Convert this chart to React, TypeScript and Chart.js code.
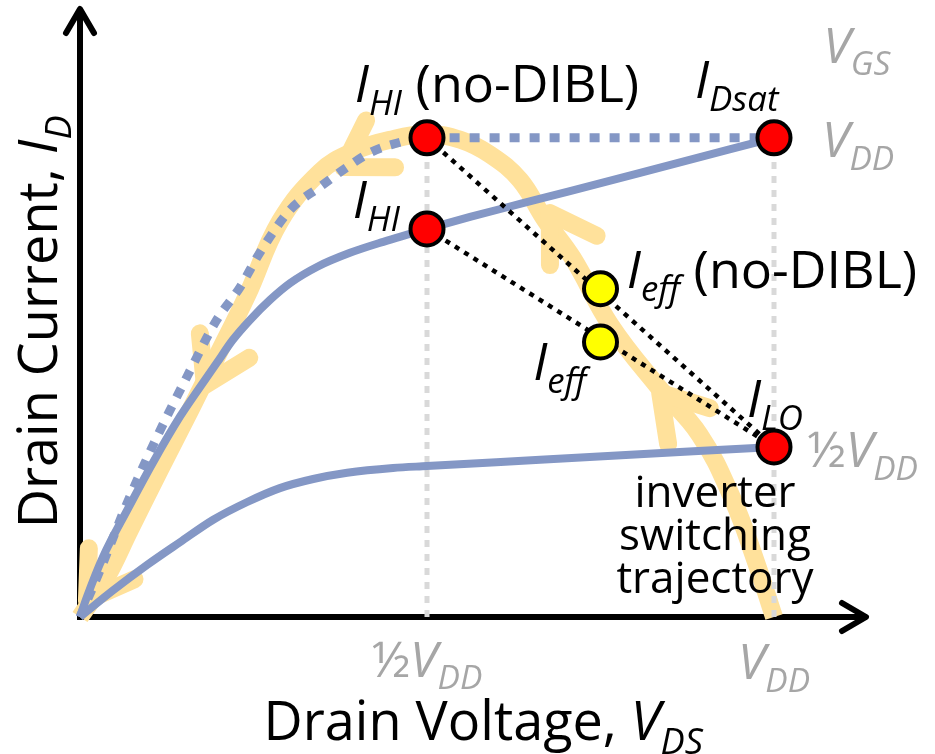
import { useEffect, useRef } from 'react';
import { Chart, registerables } from 'chart.js';

Chart.register(...registerables);

// ---------- data (x in units of VDD, y in units of IDsat) ----------
// no-DIBL characteristic, VGS = VDD (dashed)
const noDiblX = [0, 0.029, 0.068, 0.111, 0.154, 0.197, 0.231, 0.259, 0.303, 0.346, 0.385, 0.418, 0.447, 0.5, 1.0];
const noDiblY = [0, 0.098, 0.238, 0.376, 0.501, 0.62, 0.689, 0.76, 0.85, 0.898, 0.939, 0.969, 0.985, 1.0, 1.0];
// with DIBL, VGS = VDD (solid)
const vddCurveX = [0, 0.01, 0.033, 0.068, 0.105, 0.144, 0.173, 0.197, 0.22, 0.245, 0.274, 0.303, 0.342, 0.389, 0.437, 0.5, 0.562, 0.634, 0.706, 0.807, 1.0];
const vddCurveY = [0, 0.042, 0.125, 0.223, 0.322, 0.418, 0.48, 0.53, 0.578, 0.62, 0.662, 0.697, 0.731, 0.76, 0.783, 0.81, 0.835, 0.862, 0.889, 0.927, 1.0];
// with DIBL, VGS = 1/2 VDD (solid)
const halfCurveX = [0, 0.048, 0.097, 0.144, 0.192, 0.241, 0.288, 0.336, 0.385, 0.451, 0.5, 0.663, 1.0];
const halfCurveY = [0, 0.056, 0.109, 0.156, 0.203, 0.24, 0.269, 0.288, 0.301, 0.311, 0.315, 0.328, 0.355];
// inverter switching trajectory (in travel order)
const trajX = [1.0, 0.973, 0.941, 0.893, 0.831, 0.764, 0.71, 0.67, 0.634, 0.591, 0.548, 0.5, 0.447, 0.393, 0.346, 0.288, 0.241, 0.195, 0.159, 0.115, 0.072, 0.036, 0];
const trajY = [0, 0.119, 0.244, 0.38, 0.484, 0.61, 0.749, 0.829, 0.912, 0.965, 0.996, 1.008, 0.996, 0.971, 0.929, 0.825, 0.672, 0.537, 0.432, 0.307, 0.182, 0.077, 0];
// arrowheads along the trajectory
const arrowTipX = [0.836, 0.677, 0.379, 0.18, 0.01];
const arrowTipY = [0.468, 0.843, 0.939, 0.484, 0.035];
// red operating points: IHI(no-DIBL), IDsat, IHI, ILO
const redX = [0.5, 1.0, 0.5, 1.0];
const redY = [1.0, 1.0, 0.81, 0.355];
// yellow Ieff points: Ieff(no-DIBL), Ieff
const yellowX = [0.75, 0.75];
const yellowY = [0.685, 0.574];
// x tick values / guide lines
const xTickValues = [0.5, 1.0];
const guideTop = [1.0, 1.0];

const FONT = '"Open Sans", "DejaVu Sans", sans-serif';
const BLUE = '#8497c5';
const ORANGE = '#ffe19b';
const GRID = '#d9d9d9';
const GRAY = '#a6a6a6';
const SX = 1.0;

type Run = { t: string; it?: boolean; sub?: boolean };
type Label = { x: number; y: number; runs: Run[]; size: number; color: string; align: 'left' | 'center'; rot?: boolean };

const labels: Label[] = [
  { x: 0.396, y: 1.075, size: 52, color: '#000', align: 'left', runs: [{ t: 'I', it: true }, { t: 'HI', it: true, sub: true }, { t: ' (no-DIBL)' }] },
  { x: 0.886, y: 1.084, size: 52, color: '#000', align: 'left', runs: [{ t: 'I', it: true }, { t: 'Dsat', it: true, sub: true }] },
  { x: 1.071, y: 1.157, size: 50, color: GRAY, align: 'left', runs: [{ t: 'V', it: true }, { t: 'GS', it: true, sub: true }] },
  { x: 1.069, y: 0.96, size: 50, color: GRAY, align: 'left', runs: [{ t: 'V', it: true }, { t: 'DD', it: true, sub: true }] },
  { x: 0.393, y: 0.833, size: 52, color: '#000', align: 'left', runs: [{ t: 'I', it: true }, { t: 'HI', it: true, sub: true }] },
  { x: 0.788, y: 0.687, size: 52, color: '#000', align: 'left', runs: [{ t: 'I', it: true }, { t: 'eff', it: true, sub: true }, { t: ' (no-DIBL)' }] },
  { x: 0.653, y: 0.495, size: 52, color: '#000', align: 'left', runs: [{ t: 'I', it: true }, { t: 'eff', it: true, sub: true }] },
  { x: 0.961, y: 0.418, size: 52, color: '#000', align: 'left', runs: [{ t: 'I', it: true }, { t: 'LO', it: true, sub: true }] },
  { x: 1.048, y: 0.313, size: 50, color: GRAY, align: 'left', runs: [{ t: '½' }, { t: 'V', it: true }, { t: 'DD', it: true, sub: true }] },
  { x: 0.915, y: 0.23, size: 44, color: '#000', align: 'center', runs: [{ t: 'inverter' }] },
  { x: 0.915, y: 0.14, size: 44, color: '#000', align: 'center', runs: [{ t: 'switching' }] },
  { x: 0.915, y: 0.05, size: 44, color: '#000', align: 'center', runs: [{ t: 'trajectory' }] },
  { x: xTickValues[0], y: -0.125, size: 50, color: GRAY, align: 'center', runs: [{ t: '½' }, { t: 'V', it: true }, { t: 'DD', it: true, sub: true }] },
  { x: xTickValues[1], y: -0.13, size: 50, color: GRAY, align: 'center', runs: [{ t: 'V', it: true }, { t: 'DD', it: true, sub: true }] },
  { x: 0.581, y: -0.257, size: 54, color: '#000', align: 'center', runs: [{ t: 'Drain Voltage, ' }, { t: 'V', it: true }, { t: 'DS', it: true, sub: true }] },
  { x: -0.033, y: 0.616, size: 54, color: '#000', align: 'center', rot: true, runs: [{ t: 'Drain Current, ' }, { t: 'I', it: true }, { t: 'D', it: true, sub: true }] },
];

function drawRuns(ctx: CanvasRenderingContext2D, lb: Label, px: number, py: number) {
  const sub = lb.size * 0.67;
  const off = lb.size * 0.25;
  const fontFor = (r: Run) => `${r.it ? 'italic ' : ''}${r.sub ? sub : lb.size}px ${FONT}`;
  let total = 0;
  const ws = lb.runs.map((r) => {
    ctx.font = fontFor(r);
    const w = ctx.measureText(r.t).width;
    total += w;
    return w;
  });
  ctx.save();
  ctx.translate(px, py);
  if (lb.rot) ctx.rotate(-Math.PI / 2);
  ctx.scale(SX, 1);
  let cx = lb.align === 'center' ? -total / 2 : 0;
  ctx.fillStyle = lb.color;
  ctx.textBaseline = 'alphabetic';
  ctx.textAlign = 'left';
  lb.runs.forEach((r, i) => {
    ctx.font = fontFor(r);
    ctx.fillText(r.t, cx, r.sub ? off : 0);
    cx += ws[i];
  });
  ctx.restore();
}

const xy = (xs: number[], ys: number[]) => xs.map((x, i) => ({ x, y: ys[i] }));

const TRAJ_INDEX = 0;

const overlay = {
  id: 'overlay',
  beforeDatasetsDraw(chart: any) {
    const ctx: CanvasRenderingContext2D = chart.ctx;
    const xs = chart.scales.x;
    const ys = chart.scales.y;
    const x0 = xs.getPixelForValue(0);
    const y0 = ys.getPixelForValue(0);
    const xEnd = xs.right;
    const yTop = ys.top;
    ctx.save();
    ctx.strokeStyle = '#000';
    ctx.lineWidth = 6;
    ctx.lineJoin = 'miter';
    ctx.lineCap = 'butt';
    ctx.beginPath();
    ctx.moveTo(x0, yTop + 2);
    ctx.lineTo(x0, y0);
    ctx.lineTo(xEnd - 2, y0);
    ctx.stroke();
    ctx.lineCap = 'round';
    ctx.lineJoin = 'round';
    ctx.beginPath();
    ctx.moveTo(x0 - 14, yTop + 25);
    ctx.lineTo(x0, yTop + 1);
    ctx.lineTo(x0 + 14, yTop + 25);
    ctx.moveTo(xEnd - 25, y0 - 14);
    ctx.lineTo(xEnd - 1, y0);
    ctx.lineTo(xEnd - 25, y0 + 14);
    ctx.stroke();
    ctx.restore();
  },
  afterDatasetDraw(chart: any, args: any) {
    if (args.index !== TRAJ_INDEX) return;
    const ctx: CanvasRenderingContext2D = chart.ctx;
    const xs = chart.scales.x;
    const ys = chart.scales.y;
    const pts = trajX.map((x, i) => [xs.getPixelForValue(x), ys.getPixelForValue(trajY[i])]);
    ctx.save();
    ctx.strokeStyle = ORANGE;
    ctx.lineWidth = 18;
    ctx.lineCap = 'round';
    ctx.lineJoin = 'round';
    arrowTipX.forEach((tx, k) => {
      const px = xs.getPixelForValue(tx);
      const py = ys.getPixelForValue(arrowTipY[k]);
      let best = Infinity;
      let dir = [0, 0];
      for (let i = 0; i < pts.length - 1; i++) {
        const [ax, ay] = pts[i];
        const [bx, by] = pts[i + 1];
        const vx = bx - ax, vy = by - ay;
        const len2 = vx * vx + vy * vy;
        let t = ((px - ax) * vx + (py - ay) * vy) / len2;
        t = Math.max(0, Math.min(1, t));
        const qx = ax + t * vx, qy = ay + t * vy;
        const d = (qx - px) ** 2 + (qy - py) ** 2;
        if (d < best) {
          best = d;
          const l = Math.sqrt(len2);
          dir = [vx / l, vy / l];
        }
      }
      const back = Math.atan2(-dir[1], -dir[0]);
      const a = (32 * Math.PI) / 180;
      const L = 52;
      ctx.beginPath();
      ctx.moveTo(px + L * Math.cos(back + a), py + L * Math.sin(back + a));
      ctx.lineTo(px, py);
      ctx.lineTo(px + L * Math.cos(back - a), py + L * Math.sin(back - a));
      ctx.stroke();
    });
    ctx.restore();
  },
  afterDraw(chart: any) {
    const ctx: CanvasRenderingContext2D = chart.ctx;
    const xs = chart.scales.x;
    const ys = chart.scales.y;
    labels.forEach((lb) => drawRuns(ctx, lb, xs.getPixelForValue(lb.x), ys.getPixelForValue(lb.y)));
  },
};

export default function App() {
  const ref = useRef<HTMLCanvasElement | null>(null);
  useEffect(() => {
    if (!ref.current) return;
    const guides = xTickValues.map((x, i) => ({
      data: [{ x, y: 0 }, { x, y: guideTop[i] }],
      borderColor: GRID,
      borderWidth: 5,
      borderDash: [7, 7],
      pointRadius: 0,
      order: 9,
      clip: false as any,
    }));
    const chart = new Chart(ref.current, {
      type: 'line',
      data: {
        datasets: [
          {
            data: xy(trajX, trajY),
            borderColor: ORANGE,
            borderWidth: 18,
            tension: 0.4,
            pointRadius: 0,
            borderCapStyle: 'butt',
            borderJoinStyle: 'round',
            order: 10,
            clip: false as any,
          },
          ...guides,
          {
            data: xy(halfCurveX, halfCurveY),
            borderColor: BLUE,
            borderWidth: 8,
            cubicInterpolationMode: 'monotone',
            pointRadius: 0,
            order: 5,
            clip: false as any,
          },
          {
            data: xy(vddCurveX, vddCurveY),
            borderColor: BLUE,
            borderWidth: 8,
            cubicInterpolationMode: 'monotone',
            pointRadius: 0,
            order: 5,
            clip: false as any,
          },
          {
            data: xy(noDiblX, noDiblY),
            borderColor: BLUE,
            borderWidth: 9,
            borderDash: [10, 10],
            borderCapStyle: 'butt',
            cubicInterpolationMode: 'monotone',
            pointRadius: 0,
            order: 6,
            clip: false as any,
          },
          {
            data: [{ x: redX[0], y: redY[0] }, { x: redX[3], y: redY[3] }],
            borderColor: '#000',
            borderWidth: 4.5,
            borderDash: [5, 6],
            pointRadius: 0,
            order: 3,
            clip: false as any,
          },
          {
            data: [{ x: redX[2], y: redY[2] }, { x: redX[3], y: redY[3] }],
            borderColor: '#000',
            borderWidth: 4.5,
            borderDash: [5, 6],
            pointRadius: 0,
            order: 3,
            clip: false as any,
          },
          {
            data: xy(yellowX, yellowY),
            showLine: false,
            pointRadius: 16.5,
            pointBorderWidth: 4,
            pointBackgroundColor: '#ffff00',
            pointBorderColor: '#000',
            order: 1,
            clip: false as any,
          },
          {
            data: xy(redX, redY),
            showLine: false,
            pointRadius: 16.5,
            pointBorderWidth: 4,
            pointBackgroundColor: '#ff0000',
            pointBorderColor: '#000',
            order: 1,
            clip: false as any,
          },
        ] as any,
      },
      options: {
        animation: false,
        responsive: false,
        maintainAspectRatio: false,
        devicePixelRatio: 1,
        events: [],
        layout: { autoPadding: false, padding: { left: 80, right: 68, top: 8, bottom: 137 } },
        scales: {
          x: { type: 'linear', min: 0, max: 1.134, display: false },
          y: { type: 'linear', min: 0, max: 1.271, display: false },
        },
        plugins: { legend: { display: false }, tooltip: { enabled: false } },
      },
      plugins: [overlay],
    });
    return () => chart.destroy();
  }, []);
  return (
    <div style={{ position: 'absolute', left: 0, top: 0, width: 935, height: 754, background: '#fff' }}>
      <canvas ref={ref} width={935} height={754} style={{ display: 'block', width: 935, height: 754 }} />
    </div>
  );
}
